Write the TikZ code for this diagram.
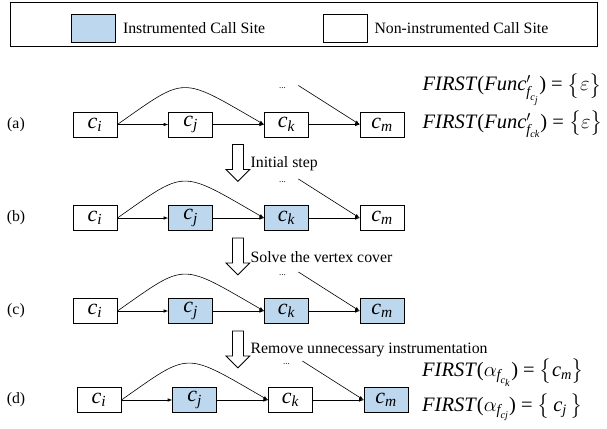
\documentclass[tikz,border=0pt]{standalone}
\usepackage{amsmath}
\usepackage{fontspec}
\setmainfont{Liberation Serif}
\usepackage{tikz}
\usetikzlibrary{arrows}
\usetikzlibrary{shapes}
\usetikzlibrary{positioning}
\definecolor{instblue}{RGB}{189,215,238}

\begin{document}
\begin{tikzpicture}[node distance=95.7pt]
            \tikzstyle{site}=[draw,line width=0.8pt,minimum width=44pt,minimum height=25pt,inner sep=0pt,font=\fontsize{22}{24}\selectfont]
            \tikzstyle{inst}=[site,fill=instblue]
            \tikzstyle{note}=[inner sep=0pt,font=\fontsize{15.8}{18}\selectfont]
            \tikzstyle{dots}=[inner sep=0pt,font=\fontsize{9}{9}\selectfont]
            \tikzstyle{formula}=[inner sep=0pt,anchor=west,font=\fontsize{20.5}{22}\selectfont]
            \tikzstyle{edge}=[line width=0.6pt,-latex]
            \tikzstyle{hollow}=[line width=0.8pt,fill=white]

            \useasboundingbox (0,0) rectangle (607pt,-428pt);

            % legend
            \node[draw,line width=0.8pt,minimum width=587pt,minimum height=43.5pt] (legend) at (303.5pt,-24.5pt) {};
            \node[inst,minimum height=28pt,line width=0.6pt] (keyin) at (93.5pt,-28pt) {};
            \node[note,right=7pt of keyin] (keyint) {Instrumented Call Site};
            \node[site,minimum height=28pt,line width=0.6pt] (keyno) at (345pt,-28pt) {};
            \node[note,right=7pt of keyno] (keynot) {Non-instrumented Call Site};

            % (a)
            \node[site] (Ai) at (95pt,-124.5pt) {\textit{c}$_{\textit{i}}$};
            \node[site] (Aj) [right of=Ai] {\textit{c}$_{\textit{j}}$};
            \node[site] (Ak) [right of=Aj] {\textit{c}$_{\textit{k}}$};
            \node[site] (Am) [right of=Ak] {\textit{c}$_{\textit{m}}$};
            \node[note] (La) [node distance=79pt,left of=Ai] {(a)};
            \node[dots] (Ad) at ([xshift=-4pt,yshift=36pt]Ak.center) {...};
            \coordinate (As) at ([xshift=12pt,yshift=39pt]Ak.center);
            \node[formula] (Af2) at ([xshift=18pt]Am.east) {\textit{FIRST}(\textit{Func}$'_{\textit{f}_{\textit{ck}}}$) = $\big\{\varepsilon\big\}$};
            \node[formula] (Af1) at ([yshift=35pt]Af2.west) {\textit{FIRST}(\textit{Func}$'_{\textit{f}_{\textit{c}_{\textit{j}}}}$) = $\big\{\varepsilon\big\}$};

            % (b)
            \node[site] (Bi) [node distance=93.5pt,below of=Ai] {\textit{c}$_{\textit{i}}$};
            \node[inst] (Bj) [right of=Bi] {\textit{c}$_{\textit{j}}$};
            \node[inst] (Bk) [right of=Bj] {\textit{c}$_{\textit{k}}$};
            \node[site] (Bm) [right of=Bk] {\textit{c}$_{\textit{m}}$};
            \node[note] (Lb) [node distance=79pt,left of=Bi] {(b)};
            \node[dots] (Bd) at ([xshift=-4pt,yshift=36pt]Bk.center) {...};
            \coordinate (Bs) at ([xshift=12pt,yshift=39pt]Bk.center);

            % (c)
            \node[site] (Ci) [node distance=93pt,below of=Bi] {\textit{c}$_{\textit{i}}$};
            \node[inst] (Cj) [right of=Ci] {\textit{c}$_{\textit{j}}$};
            \node[inst] (Ck) [right of=Cj] {\textit{c}$_{\textit{k}}$};
            \node[inst] (Cm) [right of=Ck] {\textit{c}$_{\textit{m}}$};
            \node[note] (Lc) [node distance=79pt,left of=Ci] {(c)};
            \node[dots] (Cd) at ([xshift=-4pt,yshift=36pt]Ck.center) {...};
            \coordinate (Cs) at ([xshift=12pt,yshift=39pt]Ck.center);

            % (d)
            \node[site] (Di) [node distance=89pt,below of=Ci,xshift=4pt] {\textit{c}$_{\textit{i}}$};
            \node[inst] (Dj) [right of=Di] {\textit{c}$_{\textit{j}}$};
            \node[site] (Dk) [right of=Dj] {\textit{c}$_{\textit{k}}$};
            \node[inst] (Dm) [right of=Dk] {\textit{c}$_{\textit{m}}$};
            \node[note] (Ld) [node distance=79pt,left of=Ci,yshift=-89pt] {(d)};
            \node[dots] (Dd) at ([xshift=-4pt,yshift=36pt]Dk.center) {...};
            \coordinate (Ds) at ([xshift=12pt,yshift=39pt]Dk.center);
            \node[formula] (Df1) at ([xshift=13.5pt,yshift=27pt]Dm.east) {\textit{FIRST}($\alpha_{\textit{f}_{\textit{c}_{\textit{k}}}}$) = $\big\{$\textit{c}$_{\textit{m}}\big\}$};
            \node[formula] (Df2) at ([yshift=-34pt]Df1.west) {\textit{FIRST}($\alpha_{\textit{f}_{\textit{cj}}}$) = $\big\{\,$\textit{c}$_{\textit{j}}\,\big\}$};

            \draw[edge] (Ai) -- (Aj);
            \draw[edge] (Aj) -- (Ak);
            \draw[edge] (Ak) -- (Am);
            \draw[edge] (As) -- (Am.west);
            \draw[edge] (Ai.east) .. controls +(35:85pt) and +(150:98pt) .. (Ak.west);
            \draw[edge] (Bi) -- (Bj);
            \draw[edge] (Bj) -- (Bk);
            \draw[edge] (Bk) -- (Bm);
            \draw[edge] (Bs) -- (Bm.west);
            \draw[edge] (Bi.east) .. controls +(35:85pt) and +(150:98pt) .. (Bk.west);
            \draw[edge] (Ci) -- (Cj);
            \draw[edge] (Cj) -- (Ck);
            \draw[edge] (Ck) -- (Cm);
            \draw[edge] (Cs) -- (Cm.west);
            \draw[edge] (Ci.east) .. controls +(35:85pt) and +(150:98pt) .. (Ck.west);
            \draw[edge] (Di) -- (Dj);
            \draw[edge] (Dj) -- (Dk);
            \draw[edge] (Dk) -- (Dm);
            \draw[edge] (Ds) -- (Dm.west);
            \draw[edge] (Di.east) .. controls +(35:85pt) and +(150:98pt) .. (Dk.west);

            % hollow step arrows
            \coordinate (T1) at ([xshift=-48.5pt,yshift=-7pt]Ak.south);
            \coordinate (T2) at ([xshift=-48.5pt,yshift=-7pt]Bk.south);
            \coordinate (T3) at ([xshift=-48.5pt,yshift=-7pt]Ck.south);
            \draw[hollow] (T1) ++(-5.5pt,0) -- ++(0,-25pt) -- ++(-6.5pt,0) -- ++(12pt,-12pt) -- ++(12pt,12pt) -- ++(-6.5pt,0) -- ++(0,25pt) -- cycle;
            \draw[hollow] (T2) ++(-5.5pt,0) -- ++(0,-25pt) -- ++(-6.5pt,0) -- ++(12pt,-12pt) -- ++(12pt,12pt) -- ++(-6.5pt,0) -- ++(0,25pt) -- cycle;
            \draw[hollow] (T3) ++(-5.5pt,0) -- ++(0,-25pt) -- ++(-6.5pt,0) -- ++(12pt,-12pt) -- ++(12pt,12pt) -- ++(-6.5pt,0) -- ++(0,25pt) -- cycle;
            \node[note,anchor=west] (T1l) at ([xshift=12.5pt,yshift=-19pt]T1) {Initial step};
            \node[note,anchor=west] (T2l) at ([xshift=12.5pt,yshift=-19pt]T2) {Solve the vertex cover};
            \node[note,anchor=west] (T3l) at ([xshift=12.5pt,yshift=-19pt]T3) {Remove unnecessary instrumentation};
        \end{tikzpicture}
\end{document}
